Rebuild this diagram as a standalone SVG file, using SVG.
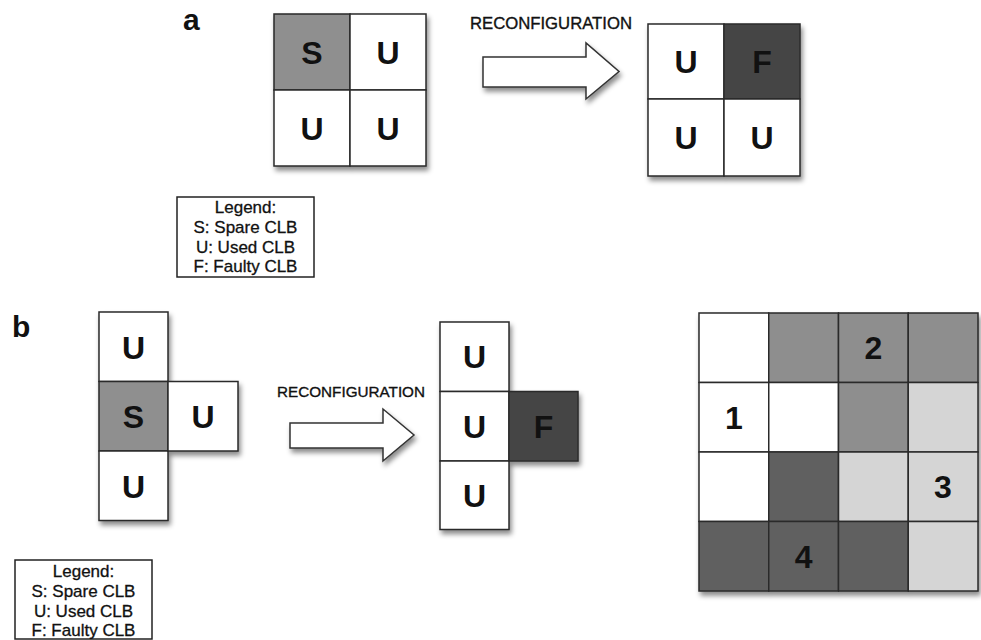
<svg xmlns="http://www.w3.org/2000/svg" width="981" height="640" viewBox="0 0 981 640">
<style>
.c{stroke:#2a2a2a;stroke-width:1.5}
.w{fill:#ffffff}
.s{fill:#8f8f8f}
.f{fill:#454545}
.m{fill:#8e8e8e}
.d{fill:#606060}
.l{fill:#d5d5d5}
.t{font-family:"Liberation Sans",Arial,sans-serif;font-weight:bold;font-size:32px;fill:#111;text-anchor:middle}
.p{font-family:"Liberation Sans",Arial,sans-serif;font-weight:bold;font-size:30px;fill:#111}
.r{font-family:"Liberation Sans",Arial,sans-serif;fill:#111;stroke:#111;stroke-width:0.35}
.g{font-family:"Liberation Sans",Arial,sans-serif;font-size:17px;fill:#111;stroke:#111;stroke-width:0.3;text-anchor:middle}
.box{fill:#fff;stroke:#222;stroke-width:1.5}
.arr{fill:#fff;stroke:#333;stroke-width:1.5;stroke-linejoin:miter}
</style>
<defs>
<filter id="sh" x="-10%" y="-10%" width="130%" height="130%">
<feDropShadow dx="2" dy="4" stdDeviation="2.5" flood-color="#000" flood-opacity="0.45"/>
</filter>
</defs>
<rect width="981" height="640" fill="#fff"/>

<text class="p" x="183" y="30">a</text>
<text class="p" x="12" y="337">b</text>

<g id="grid-a-before" filter="url(#sh)">
<rect class="c s" x="274" y="14" width="76" height="76"/>
<rect class="c w" x="350" y="14" width="76" height="76"/>
<rect class="c w" x="274" y="90" width="76" height="76"/>
<rect class="c w" x="350" y="90" width="76" height="76"/>
</g>
<g id="grid-a-before-labels">
<text class="t" x="312" y="63.5">S</text>
<text class="t" x="388" y="63.5">U</text>
<text class="t" x="312" y="139.5">U</text>
<text class="t" x="388" y="139.5">U</text>
</g>

<g id="arrow-a">
<text class="r" x="470" y="29" font-size="16.5" textLength="162" lengthAdjust="spacingAndGlyphs">RECONFIGURATION</text>
<polygon class="arr" filter="url(#sh)" points="483,57 586,57 586,43 619,71.5 586,99 586,87 483,87"/>
</g>

<g id="grid-a-after" filter="url(#sh)">
<rect class="c w" x="648" y="24" width="76" height="75"/>
<rect class="c f" x="724" y="24" width="76" height="75"/>
<rect class="c w" x="648" y="99" width="76" height="77"/>
<rect class="c w" x="724" y="99" width="76" height="77"/>
</g>
<g id="grid-a-after-labels">
<text class="t" x="686" y="73">U</text>
<text class="t" x="762" y="73">F</text>
<text class="t" x="686" y="149">U</text>
<text class="t" x="762" y="149">U</text>
</g>

<g id="legend-a">
<rect class="box" x="177" y="197" width="137" height="80"/>
<text class="g" x="245.5" y="213">Legend:</text>
<text class="g" x="245.5" y="233">S: Spare CLB</text>
<text class="g" x="245.5" y="253">U: Used CLB</text>
<text class="g" x="245.5" y="272">F: Faulty CLB</text>
</g>

<g id="cross-b-before" filter="url(#sh)">
<rect class="c w" x="99" y="312" width="69" height="69.5"/>
<rect class="c s" x="99" y="381.5" width="69" height="69.5"/>
<rect class="c w" x="99" y="451" width="69" height="69.5"/>
<rect class="c w" x="168" y="381.5" width="70" height="69.5"/>
</g>
<g id="cross-b-before-labels">
<text class="t" x="133.5" y="358.5">U</text>
<text class="t" x="133.5" y="428">S</text>
<text class="t" x="133.5" y="497.5">U</text>
<text class="t" x="203" y="428">U</text>
</g>

<g id="arrow-b">
<text class="r" x="277" y="397" font-size="15" textLength="148" lengthAdjust="spacingAndGlyphs">RECONFIGURATION</text>
<polygon class="arr" filter="url(#sh)" points="290,423 383,423 383,409 414,435 383,461 383,448 290,448"/>
</g>

<g id="cross-b-after" filter="url(#sh)">
<rect class="c w" x="440" y="322" width="69" height="69.5"/>
<rect class="c w" x="440" y="391.5" width="69" height="69.5"/>
<rect class="c w" x="440" y="461" width="69" height="68.5"/>
<rect class="c f" x="509" y="391.5" width="69" height="69.5"/>
</g>
<g id="cross-b-after-labels">
<text class="t" x="474.5" y="368">U</text>
<text class="t" x="474.5" y="437.5">U</text>
<text class="t" x="474.5" y="506.5">U</text>
<text class="t" x="543.5" y="437.5">F</text>
</g>

<g id="legend-b">
<rect class="box" x="15" y="560" width="137" height="79"/>
<text class="g" x="83.5" y="577">Legend:</text>
<text class="g" x="83.5" y="597">S: Spare CLB</text>
<text class="g" x="83.5" y="617">U: Used CLB</text>
<text class="g" x="83.5" y="636">F: Faulty CLB</text>
</g>

<g id="region-grid" filter="url(#sh)">
<rect class="c w" x="699" y="313" width="69.75" height="69.5"/>
<rect class="c m" x="768.75" y="313" width="69.75" height="69.5"/>
<rect class="c m" x="838.5" y="313" width="69.75" height="69.5"/>
<rect class="c m" x="908.25" y="313" width="69.75" height="69.5"/>
<rect class="c w" x="699" y="382.5" width="69.75" height="69.5"/>
<rect class="c w" x="768.75" y="382.5" width="69.75" height="69.5"/>
<rect class="c m" x="838.5" y="382.5" width="69.75" height="69.5"/>
<rect class="c l" x="908.25" y="382.5" width="69.75" height="69.5"/>
<rect class="c w" x="699" y="452" width="69.75" height="69.5"/>
<rect class="c d" x="768.75" y="452" width="69.75" height="69.5"/>
<rect class="c l" x="838.5" y="452" width="69.75" height="69.5"/>
<rect class="c l" x="908.25" y="452" width="69.75" height="69.5"/>
<rect class="c d" x="699" y="521.5" width="69.75" height="69.5"/>
<rect class="c d" x="768.75" y="521.5" width="69.75" height="69.5"/>
<rect class="c d" x="838.5" y="521.5" width="69.75" height="69.5"/>
<rect class="c l" x="908.25" y="521.5" width="69.75" height="69.5"/>
</g>
<g id="region-grid-labels">
<text class="t" x="873.4" y="359">2</text>
<text class="t" x="734" y="428.5">1</text>
<text class="t" x="943" y="498">3</text>
<text class="t" x="803.6" y="567.5">4</text>
</g>
</svg>
